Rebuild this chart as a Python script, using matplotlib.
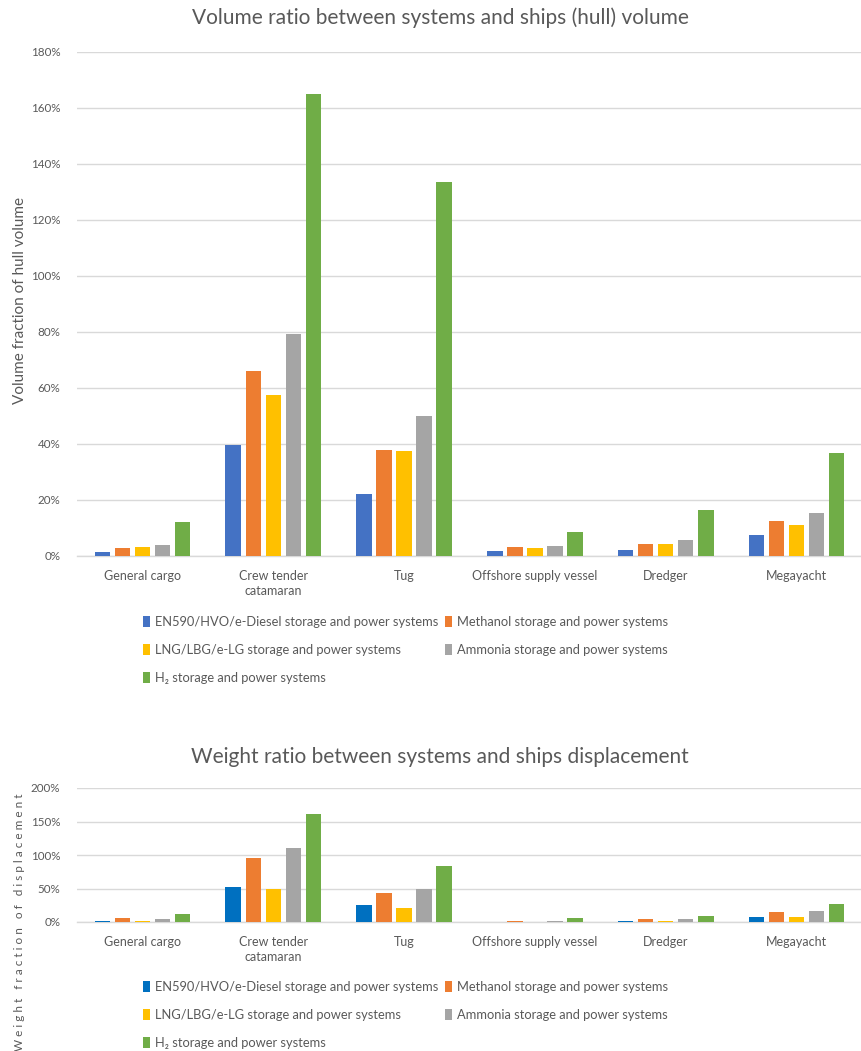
import matplotlib
matplotlib.use("Agg")
import matplotlib.pyplot as plt
import numpy as np
from matplotlib.patches import Patch
from matplotlib.ticker import FuncFormatter

plt.rcParams['font.family'] = ['Lato', 'DejaVu Sans']

categories = ["General cargo", "Crew tender\ncatamaran", "Tug",
              "Offshore supply vessel", "Dredger", "Megayacht"]
series_names = ["EN590/HVO/e-Diesel storage and power systems",
                "Methanol storage and power systems",
                "LNG/LBG/e-LG storage and power systems",
                "Ammonia storage and power systems",
                "H\u2082 storage and power systems"]

# Volume fraction of hull volume (%)
vol_diesel = [1.3, 39.6, 22.3, 1.8, 2.3, 7.4]
vol_methanol = [2.7, 66.1, 38.0, 3.1, 4.4, 12.5]
vol_lng = [3.1, 57.5, 37.5, 2.7, 4.4, 11.1]
vol_ammonia = [3.9, 79.3, 49.9, 3.5, 5.7, 15.5]
vol_h2 = [12.0, 165.1, 133.5, 8.6, 16.3, 36.7]

# Weight fraction of displacement (%)
wt_diesel = [2.0, 52.0, 25.5, 0.0, 2.0, 8.0]
wt_methanol = [5.5, 95.0, 43.0, 2.0, 4.0, 14.5]
wt_lng = [2.0, 50.0, 21.5, 0.0, 1.5, 7.5]
wt_ammonia = [5.0, 110.5, 50.0, 2.0, 4.0, 16.5]
wt_h2 = [12.5, 160.5, 83.5, 5.5, 9.5, 27.0]

colors_top = ["#4472C4", "#ED7D31", "#FFC000", "#A5A5A5", "#70AD47"]
colors_bottom = ["#0070C0", "#ED7D31", "#FFC000", "#A5A5A5", "#70AD47"]

TXT = "#595959"
GRID = "#D9D9D9"

W, H = 862, 1051
fig = plt.figure(figsize=(W / 100, H / 100), dpi=100)


def fx(px):
    return px / W


def fy(py):
    return 1 - py / H


def draw_panel(rect, series, colors, ymax, ystep, title, title_y, ylabel, ylabel_y,
               legend_y, ylabel_kw):
    ax = fig.add_axes(rect)
    x = np.arange(len(categories))
    step = 0.153
    width = 0.118
    for k, (vals, c) in enumerate(zip(series, colors)):
        ax.bar(x + (k - 2) * step, vals, width=width, color=c, zorder=3,
               linewidth=0)
    ax.set_xlim(-0.5, len(categories) - 0.5)
    ax.set_ylim(0, ymax)
    ax.set_yticks(np.arange(0, ymax + 0.01, ystep))
    ax.yaxis.set_major_formatter(FuncFormatter(lambda v, p: f"{v:.0f}%"))
    ax.set_xticks(x)
    ax.set_xticklabels(categories, color=TXT, fontsize=9, linespacing=1.3)
    ax.tick_params(axis='both', length=0, labelsize=8.4, colors=TXT)
    ax.tick_params(axis='x', labelsize=9)
    ax.tick_params(axis='y', pad=12)
    ax.tick_params(axis='x', pad=10)
    ax.grid(axis='y', color=GRID, linewidth=1.0, zorder=0)
    for s in ['top', 'right', 'left']:
        ax.spines[s].set_visible(False)
    ax.spines['bottom'].set_color(GRID)
    ax.spines['bottom'].set_linewidth(1.0)
    ax.spines['bottom'].set_zorder(1)
    fig.text(fx(440), fy(title_y), title, ha='center', va='center',
             fontsize=15, color=TXT)
    fig.text(fx(20), fy(ylabel_y), ylabel, ha='center', va='center',
             rotation=90, color=TXT, **ylabel_kw)
    handles = [Patch(facecolor=c, edgecolor='none') for c in colors]
    order = [0, 2, 4, 1, 3]
    fig.legend([handles[i] for i in order], [series_names[i] for i in order],
               ncol=2, loc='upper left',
               bbox_to_anchor=(fx(143), fy(legend_y)),
               frameon=False, fontsize=9.3, labelcolor=TXT,
               handlelength=0.55, handleheight=0.9, handletextpad=0.35,
               columnspacing=0.55, labelspacing=1.25, borderaxespad=0,
               borderpad=0)
    return ax


draw_panel([fx(77), fy(556), fx(785), (556 - 52) / H],
           [vol_diesel, vol_methanol, vol_lng, vol_ammonia, vol_h2],
           colors_top, 180, 20,
           "Volume ratio between systems and ships (hull) volume", 18,
           "Volume fraction of hull volume", 300, 616,
           dict(fontsize=11))

draw_panel([fx(77), fy(922), fx(785), (922 - 788) / H],
           [wt_diesel, wt_methanol, wt_lng, wt_ammonia, wt_h2],
           colors_bottom, 200, 50,
           "Weight ratio between systems and ships displacement", 757,
           "W e i g h t   f r a c t i o n   o f   d i s p l a c e m e n t", 922, 981,
           dict(fontsize=8.5))

fig.savefig("out.png", dpi=100, facecolor='white')
